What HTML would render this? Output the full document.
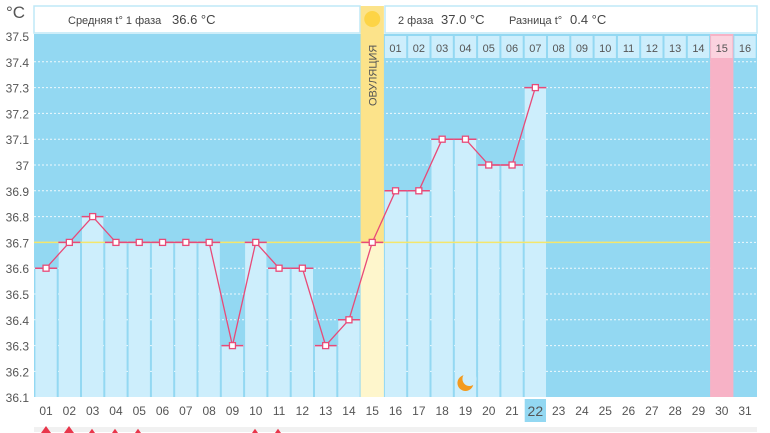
<!DOCTYPE html>
<html><head><meta charset="utf-8">
<style>
html,body{margin:0;padding:0;background:#fff;width:770px;height:433px;overflow:hidden}
svg{display:block;font-family:"Liberation Sans",sans-serif}
</style></head><body>
<svg id="s" width="770" height="433" viewBox="0 0 770 433" xmlns="http://www.w3.org/2000/svg">
<rect x="0" y="0" width="770" height="433" fill="#fff"/>
<text x="6" y="18" font-size="17" fill="#555">°C</text>
<rect x="34" y="6" width="326" height="27" fill="#fff" stroke="#bfe8f7" stroke-width="1.5"/>
<text x="68" y="24" font-size="11" fill="#444">Средняя t° 1 фаза</text>
<text x="172" y="24" font-size="13" fill="#444">36.6 °C</text>
<rect x="385" y="6" width="372" height="27" fill="#fff" stroke="#bfe8f7" stroke-width="1.5"/>
<text x="398" y="24" font-size="11" fill="#444">2 фаза</text>
<text x="441" y="24" font-size="13" fill="#444">37.0 °C</text>
<text x="509" y="24" font-size="11" fill="#444">Разница t°</text>
<text x="570" y="24" font-size="13" fill="#444">0.4 °C</text>
<g id="g"></g>
</svg>
<script>
(function(){
var g=document.getElementById('g'),h='';
var X0=34.4,W=23.3,T=34,B=397;
function y(t){return 36+(37.5-t)*258;}
var d=[36.6,36.7,36.8,36.7,36.7,36.7,36.7,36.7,36.3,36.7,36.6,36.6,36.3,36.4,36.7,36.9,36.9,37.1,37.1,37.0,37.0,37.3];
h+='<rect x="34" y="'+T+'" width="723" height="'+(B-T)+'" fill="#93d8f2"/>';
for(var k=1;k<14;k++){var yy=y(37.5-k*0.1);h+='<line x1="34" x2="757" y1="'+yy+'" y2="'+yy+'" stroke="#fff" stroke-width="1" stroke-dasharray="2,2" opacity="0.85"/>';}
h+='<rect x="'+(X0+29*W)+'" y="'+T+'" width="'+W+'" height="'+(B-T)+'" fill="#f7b2c6"/>';
for(var i=16;i<=31;i++){var x=X0+(i-1)*W;var c=(i==30)?'#fbd3df':'#cdeefc';
h+='<rect x="'+(x+1)+'" y="36" width="'+(W-2)+'" height="22" fill="'+c+'"/>';
h+='<text x="'+(x+W/2)+'" y="52" font-size="11" fill="#555" text-anchor="middle">'+(i-15<10?'0':'')+(i-15)+'</text>';}
for(var i=0;i<d.length;i++){var x=X0+i*W;var yy=y(d[i]);
if(i==14){h+='<rect x="'+x+'" y="6" width="'+W+'" height="'+(yy-6)+'" fill="#fce38a"/>';h+='<rect x="'+x+'" y="'+yy+'" width="'+W+'" height="'+(B-yy)+'" fill="#fef6cc"/>';}
else h+='<rect x="'+(x+1)+'" y="'+yy+'" width="'+(W-2)+'" height="'+(B-yy)+'" fill="#cdeefc"/>';}
h+='<circle cx="'+(X0+14*W+W/2)+'" cy="19" r="8" fill="#fdd446"/>';
h+='<text transform="translate('+(X0+14*W+W/2+4)+',106) rotate(-90)" font-size="11" fill="#555">ОВУЛЯЦИЯ</text>';
h+='<line x1="34" x2="'+(X0+29*W)+'" y1="'+y(36.7)+'" y2="'+y(36.7)+'" stroke="#f5e66b" stroke-width="1.5"/>';
var p='';for(var i=0;i<d.length;i++){p+=(X0+i*W+W/2)+','+y(d[i])+' ';}
h+='<polyline points="'+p+'" fill="none" stroke="#e84a78" stroke-width="1.3"/>';
for(var i=0;i<d.length;i++){var cx=X0+i*W+W/2,cy=y(d[i]);
h+='<line x1="'+(cx-11)+'" x2="'+(cx+11)+'" y1="'+cy+'" y2="'+cy+'" stroke="#e84a78" stroke-width="1.5"/>';
h+='<rect x="'+(cx-3)+'" y="'+(cy-3)+'" width="6" height="6" fill="#fff" stroke="#e84a78" stroke-width="1.3"/>';}
for(var k=0;k<=14;k++){var t=(37.5-k*0.1);var s=t.toFixed(1).replace(/\.0$/,'');
h+='<text x="29" y="'+(y(t)+5)+'" font-size="12" fill="#555" text-anchor="end">'+s+'</text>';}
h+='<rect x="'+(X0+21*W+1)+'" y="399" width="'+(W-2)+'" height="23" fill="#93d8f2"/>';
for(var i=1;i<=31;i++){h+='<text x="'+(X0+(i-1)*W+W/2)+'" y="'+(i==22?416:415)+'" font-size="'+(i==22?14:12)+'" fill="#555" text-anchor="middle">'+(i<10?'0':'')+i+'</text>';}
var mx=X0+18*W+W/2,my=383;
h+='<circle cx="'+mx+'" cy="'+my+'" r="8" fill="#f39a1e"/><circle cx="'+(mx+4)+'" cy="'+(my-4)+'" r="7" fill="#cdeefc"/>';
h+='<rect x="34" y="427" width="723" height="5" fill="#f1f1f1"/>';
[46,69,92,115,138,255,278].forEach(function(x,j){var s=j<2?5:3;h+='<polygon points="'+(x-s)+',433 '+x+','+(433-s*1.4)+' '+(x+s)+',433" fill="#e8364b"/>';});
g.innerHTML=h;
})();
</script>
</body></html>
